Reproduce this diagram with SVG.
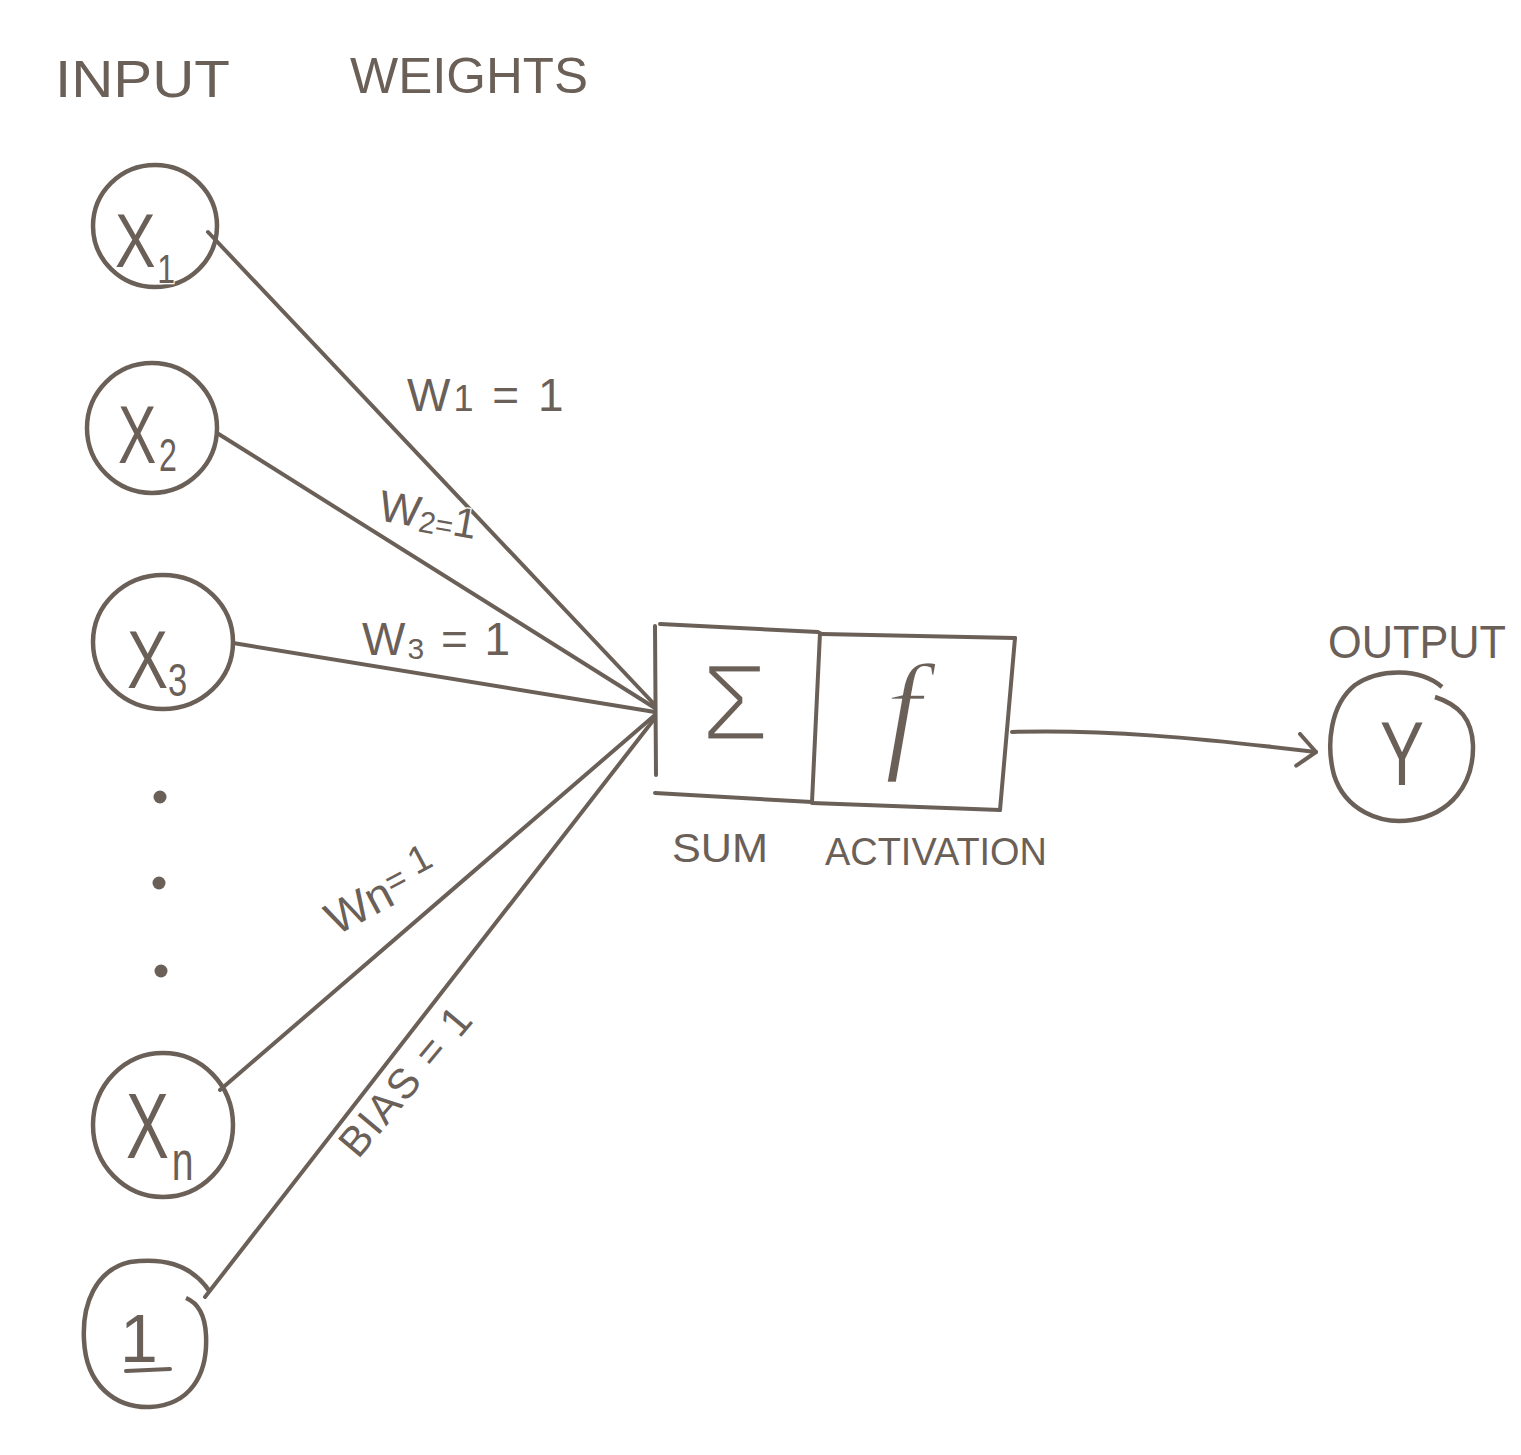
<svg xmlns="http://www.w3.org/2000/svg" width="1521" height="1455" viewBox="0 0 1521 1455">
<defs>
<style>
.ln{fill:none;stroke:#6b6058;stroke-width:4;stroke-linecap:round;stroke-linejoin:round}
.nd{fill:none;stroke:#6b6058;stroke-width:4.5}
.t{font-family:"Liberation Sans",Arial,sans-serif;fill:#6b6058;stroke:#fff;stroke-width:2.5;paint-order:stroke}
.tn{font-family:"Liberation Sans",Arial,sans-serif;fill:#6b6058;stroke:#fff;stroke-width:3;paint-order:normal}
.dot{fill:#6b6058}
</style>
<marker id="chev" viewBox="0 0 24 36" refX="20" refY="18" markerWidth="24" markerHeight="36" markerUnits="userSpaceOnUse" orient="auto">
<path d="M2,2 L20,18 L2,34" fill="none" stroke="#6b6058" stroke-width="4" stroke-linecap="round" stroke-linejoin="round"/>
</marker>
</defs>
<rect width="1521" height="1455" fill="#fff"/>

<g id="labels">
<text class="t" x="55" y="97" font-size="52" textLength="175" lengthAdjust="spacingAndGlyphs">INPUT</text>
<text class="t" x="350" y="93" font-size="50" textLength="238" lengthAdjust="spacingAndGlyphs">WEIGHTS</text>
<text class="t" x="1328" y="658" font-size="46" textLength="178" lengthAdjust="spacingAndGlyphs">OUTPUT</text>
<text class="t" x="672" y="862" font-size="40" textLength="96" lengthAdjust="spacingAndGlyphs">SUM</text>
<text class="t" x="825" y="865" font-size="38" textLength="222" lengthAdjust="spacingAndGlyphs">ACTIVATION</text>
</g>

<g id="connectors">
<path id="e1" class="ln" d="M208,232 L655,705"/>
<path id="e2" class="ln" d="M217,433 L655,708"/>
<path id="e3" class="ln" d="M233,643 L655,712"/>
<path id="en" class="ln" d="M220,1090 L655,715"/>
<path id="eb" class="ln" d="M205,1297 L655,718"/>
<path id="eout" class="ln" d="M1012,732 C1100,729 1200,738 1316,752" marker-end="url(#chev)"/>
<text class="t" x="407" y="411" font-size="46" letter-spacing="3">W<tspan font-size="36">1</tspan> = 1</text>
<text class="t" transform="translate(377,520) rotate(10)" font-size="44">W<tspan font-size="30" dy="4">2</tspan><tspan font-size="30">=</tspan><tspan font-size="42" dy="-2">1</tspan></text>
<text class="t" x="362" y="655" font-size="46" letter-spacing="2">W<tspan font-size="30" dy="4">3</tspan><tspan dy="-4"> = 1</tspan></text>
<text class="t" transform="translate(336,936) rotate(-28)" font-size="46">Wn<tspan font-size="34" dy="-10">=</tspan><tspan font-size="38" dy="-6"> 1</tspan></text>
<text class="t" transform="translate(358,1160) rotate(-50)" font-size="42" letter-spacing="2">BIAS = 1</text>
</g>

<g id="x1">
<ellipse class="nd" cx="155" cy="226" rx="62" ry="61"/>
<text class="t" transform="translate(115,267) scale(0.8,1)" font-size="76">X<tspan font-size="40" dx="2" dy="16">1</tspan></text>
</g>
<g id="x2">
<ellipse class="nd" cx="152" cy="428" rx="65" ry="65"/>
<text class="t" transform="translate(118,463) scale(0.7,1)" font-size="82">X<tspan font-size="46" dx="4" dy="8">2</tspan></text>
</g>
<g id="x3">
<ellipse class="nd" cx="163" cy="642" rx="70" ry="67"/>
<text class="t" transform="translate(127,688) scale(0.75,1)" font-size="82">X<tspan font-size="46" dy="8">3</tspan></text>
</g>
<g id="dots">
<circle class="dot" cx="160" cy="797" r="6.5"/>
<circle class="dot" cx="159" cy="883" r="6.5"/>
<circle class="dot" cx="161" cy="971" r="6.5"/>
</g>
<g id="xn">
<ellipse class="nd" cx="163" cy="1125" rx="70" ry="72"/>
<text class="t" transform="translate(126,1158) scale(0.7,1)" font-size="92">X<tspan font-size="56" dx="4" dy="22">n</tspan></text>
</g>
<g id="bias1">
<path class="nd" d="M210,1292 C190,1262 160,1258 130,1262 C95,1270 82,1305 84,1340 C86,1385 115,1408 150,1407 C190,1405 208,1375 206,1335 C205,1315 198,1303 186,1298"/>
<text class="t" x="120" y="1362" font-size="68">1</text>
<path class="ln" d="M126,1371 L170,1369"/>
</g>

<g id="sum">
<path class="ln" d="M660,624 L818,632"/>
<path class="ln" d="M655,626 L656,775"/>
<path class="ln" d="M655,793 L812,802"/>
<path class="ln" d="M820,633 L812,802"/>
<text class="tn" x="735" y="740" font-size="110" text-anchor="middle">Σ</text>
</g>
<g id="activation">
<path class="ln" d="M822,634 L1015,638"/>
<path class="ln" d="M1015,638 L1000,810"/>
<path class="ln" d="M812,803 L1000,810"/>
<text x="903" y="755" font-size="132" text-anchor="middle" style="font-family:'Liberation Serif',serif;font-style:italic;fill:#6b6058;stroke:#fff;stroke-width:2.5">f</text>
</g>

<g id="y">
<path class="nd" d="M1442,687 C1420,668 1380,668 1355,685 C1330,705 1326,745 1334,775 C1345,810 1380,825 1412,820 C1450,814 1474,785 1473,745 C1472,720 1460,705 1435,697"/>
<text class="t" x="1402" y="785" font-size="90" text-anchor="middle" textLength="44" lengthAdjust="spacingAndGlyphs">Y</text>
</g>
</svg>
